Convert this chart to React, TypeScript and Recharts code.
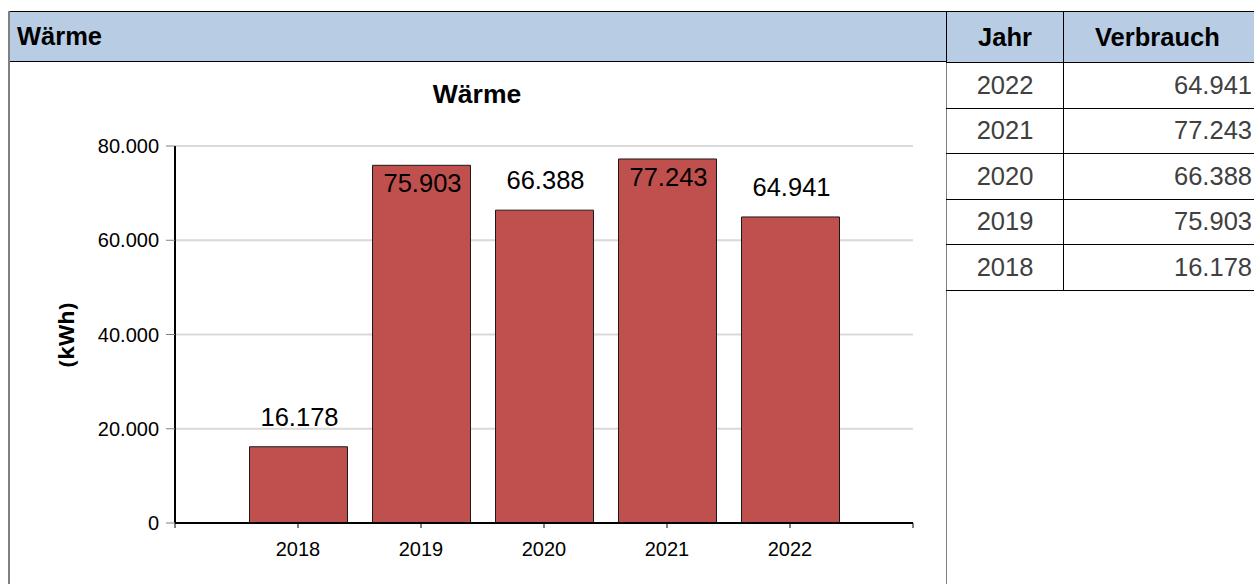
import { BarChart, Bar, XAxis, YAxis, CartesianGrid, LabelList } from 'recharts'

const years = [2018, 2019, 2020, 2021, 2022]
const verbrauch = [16178, 75903, 66388, 77243, 64941]
const yTicks = [0, 20000, 40000, 60000, 80000]
const xTicks = [2017, 2018, 2019, 2020, 2021, 2022, 2023]

const data = years.map((jahr, i) => ({ jahr, wert: verbrauch[i] }))
const tableRows = [...data].reverse()

const FONT = '"Liberation Sans", Arial, sans-serif'
const fmt = (v: number) => v.toLocaleString('de-DE')

// label above the bar, or inside its top when there's no room
const BarValue = (props: any) => {
  const { x, y, width, value } = props
  const inside = y - 45 < 84
  return (
    <text
      x={x + width / 2 + 1}
      y={inside ? y + 27 : y - 21}
      textAnchor="middle"
      fontSize={25.5}
      fontFamily={FONT}
      fill="#000"
    >
      {fmt(value)}
    </text>
  )
}

export default function App() {
  return (
    <div style={{ position: 'absolute', left: 0, top: 0, width: 1254, height: 584, overflow: 'hidden', background: '#fff', fontFamily: FONT }}>
      {/* left panel */}
      <div style={{ position: 'absolute', left: 8, top: 11, width: 938, height: 51, background: '#b8cce4', borderTop: '1px solid #000', borderBottom: '1px solid #000', boxSizing: 'border-box' }} />
      <div style={{ position: 'absolute', left: 8, top: 11, width: 2, height: 600, background: '#808080' }} />
      <div style={{ position: 'absolute', left: 946, top: 11, width: 1, height: 600, background: '#808080' }} />
      <div style={{ position: 'absolute', left: 17, top: 22, fontSize: 25.5, fontWeight: 'bold' }}>Wärme</div>

      <div style={{ position: 'absolute', left: 8, width: 938, top: 79, textAlign: 'center', fontSize: 26.5, fontWeight: 'bold' }}>Wärme</div>
      <div style={{ position: 'absolute', left: 65, top: 335, transform: 'translate(-50%, -50%) rotate(-90deg)', fontSize: 22, fontWeight: 'bold', whiteSpace: 'nowrap', fontFamily: '"Open Sans", sans-serif' }}>(kWh)</div>

      <div style={{ position: 'absolute', left: 9, top: 62 }}>
        <BarChart width={938} height={522} data={data} margin={{ top: 84, right: 34, left: 0, bottom: 0 }}>
          <CartesianGrid vertical={false} stroke="#d9d9d9" strokeWidth={2} />
          <XAxis
            dataKey="jahr"
            type="number"
            domain={[2017, 2023]}
            ticks={xTicks}
            tickFormatter={(v) => (v === 2017 || v === 2023 ? '' : String(v))}
            height={61}
            axisLine={{ stroke: '#000', strokeWidth: 2 }}
            tickLine={{ stroke: '#000' }}
            tickSize={5}
            tickMargin={14}
            tick={{ fill: '#000', fontSize: 20, fontFamily: FONT }}
          />
          <YAxis
            width={166}
            domain={[0, 80000]}
            ticks={yTicks}
            tickFormatter={fmt}
            axisLine={{ stroke: '#000', strokeWidth: 2 }}
            tickLine={{ stroke: '#808080' }}
            tickSize={9}
            tickMargin={7}
            tick={{ fill: '#000', fontSize: 20, fontFamily: FONT }}
          />
          <Bar dataKey="wert" fill="#c0504d" stroke="#1a1a1a" strokeWidth={1} barSize={98} isAnimationActive={false}>
            <LabelList dataKey="wert" content={<BarValue />} />
          </Bar>
        </BarChart>
      </div>

      {/* table */}
      <div style={{ position: 'absolute', left: 946, top: 11, width: 340 }}>
        <table style={{ borderCollapse: 'collapse', fontFamily: FONT, tableLayout: 'fixed', width: 330 }}>
          <colgroup>
            <col style={{ width: 117 }} />
            <col style={{ width: 213 }} />
          </colgroup>
          <thead>
            <tr style={{ background: '#b8cce4', height: 51 }}>
              <th style={{ border: '1px solid #000', fontSize: 25.5, padding: 0, textAlign: 'center' }}>Jahr</th>
              <th style={{ border: '1px solid #000', fontSize: 25.5, padding: 0, textAlign: 'left', paddingLeft: 31 }}>Verbrauch</th>
            </tr>
          </thead>
          <tbody>
            {tableRows.map((r) => (
              <tr key={r.jahr} style={{ height: 45.5 }}>
                <td style={{ border: '1px solid #000', borderLeft: '1px solid #808080', fontSize: 25.5, color: '#404040', textAlign: 'center', padding: 0 }}>{r.jahr}</td>
                <td style={{ border: '1px solid #000', fontSize: 25.5, color: '#404040', textAlign: 'right', padding: 0, paddingRight: 24 }}>{fmt(r.wert)}</td>
              </tr>
            ))}
          </tbody>
        </table>
      </div>
    </div>
  )
}
